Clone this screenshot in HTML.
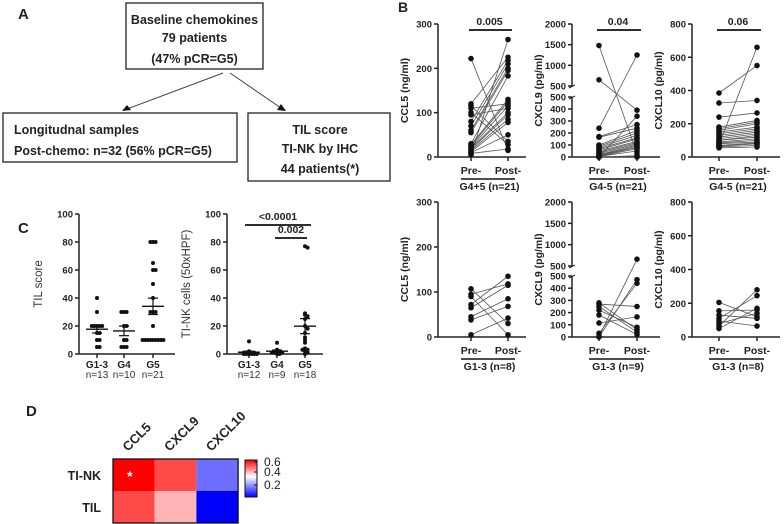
<!DOCTYPE html>
<html><head><meta charset="utf-8"><style>
body{margin:0;background:#fff}
svg{display:block;font-family:"Liberation Sans",sans-serif}
.t{font-weight:bold;fill:#222}
</style></head><body>
<svg id="fig" width="784" height="524" viewBox="0 0 784 524">
<g font-family="Liberation Sans" font-weight="bold" font-size="12.5" fill="#222">
<text x="18" y="19" font-size="15">A</text>
<rect x="126" y="3" width="137" height="66" fill="none" stroke="#222" stroke-width="1.3"/>
<text x="194.5" y="24" text-anchor="middle">Baseline chemokines</text>
<text x="194.5" y="42" text-anchor="middle">79 patients</text>
<text x="194.5" y="63" text-anchor="middle">(47% pCR=G5)</text>
<line x1="223" y1="73" x2="127" y2="109" stroke="#444"/>
<polygon points="122,111 127,105 131,110" fill="#111"/>
<line x1="230" y1="73" x2="281" y2="108" stroke="#444"/>
<polygon points="286,111 277,110 281,104" fill="#111"/>
<rect x="3" y="113" width="234" height="49" fill="none" stroke="#222" stroke-width="1.3"/>
<text x="14" y="134">Longitudnal samples</text>
<text x="14" y="155">Post-chemo: n=32 (56% pCR=G5)</text>
<rect x="248" y="113" width="142" height="68" fill="none" stroke="#222" stroke-width="1.3"/>
<text x="320" y="134" text-anchor="middle">TIL score</text>
<text x="320" y="153" text-anchor="middle">TI-NK by IHC</text>
<text x="320" y="173" text-anchor="middle">44 patients(*)</text>
</g>
<text x="398" y="12" class="t" font-size="14">B</text>
<text x="18" y="233" class="t" font-size="15">C</text>
<text x="26" y="416" class="t" font-size="15">D</text>
<g id="gB"></g>
<g id="gC"></g>
<g id="gD"></g>
</svg>
<script>
// Panel B data
const ccl5PreG45 = [222,120,115,110,100,95,80,70,60,55,30,28,25,22,20,18,15,12,10,8,5];
const ccl5PostG45 = [15,225,35,120,28,110,218,210,200,195,183,130,125,115,100,95,85,78,50,18,265];
const cxcl9PreG45 = [1480,650,240,170,165,100,90,80,70,60,50,40,30,20,15,10,5,5,0,0,0];
const cxcl9PostG45 = [30,390,1250,270,240,220,200,180,160,150,130,120,110,100,90,80,70,50,340,10,0];
const cxcl10PreG45 = [385,325,240,180,170,160,150,140,130,120,110,100,100,90,85,80,75,70,65,60,55];
const cxcl10PostG45 = [550,340,265,220,210,200,180,170,160,150,140,130,120,110,100,90,660,85,80,70,60];
const ccl5PreG13 = [107,95,90,72,65,45,38,5];
const ccl5PostG13 = [30,118,5,135,115,85,68,42];
const cxcl9PreG13 = [280,270,250,220,180,115,30,5,0];
const cxcl9PostG13 = [60,250,40,80,20,165,440,660,470];
const cxcl10PreG13 = [205,155,130,110,95,80,65,50];
const cxcl10PostG13 = [120,160,110,245,65,140,280,170];
const pValuesB = ["0.005","0.04","0.06"];
const groupLabelsTop = ["G4+5 (n=21)","G4-5 (n=21)","G4-5 (n=21)"];
const groupLabelsBottom = ["G1-3 (n=8)","G1-3 (n=9)","G1-3 (n=8)"];
// Panel C data
const tilCats = ["G1-3","G4","G5"];
const tilN = ["n=13","n=10","n=21"];
const tilG13 = [40,30,20,20,20,20,20,15,15,10,10,5,5];
const tilG4 = [30,30,30,20,20,10,10,5,5,5];
const tilG5 = [80,80,80,65,60,60,50,40,30,30,30,20,10,10,10,10,10,10,10,10,10];
const nkN = ["n=12","n=9","n=18"];
const nkG13 = [9,2,1,1,1,1,0,0,0,0,0,0];
const nkG4 = [8,3,2,2,1,1,1,0,0];
const nkG5 = [77,76,29,28,27,25,20,18,15,12,10,8,4,3,3,2,1,0];
const cTicks = [0,20,40,60,80,100];
// Panel D data
const heatCols = ["CCL5","CXCL9","CXCL10"];
const heatRows = ["TI-NK","TIL"];
const heatTINK = [0.62,0.55,0.22];
const heatTIL = [0.55,0.45,0.10];
const legendTicks = [0.6,0.4,0.2];

const NS="http://www.w3.org/2000/svg";
function mk(parent,tag,attrs,text){const e=document.createElementNS(NS,tag);for(const k in attrs)e.setAttribute(k,attrs[k]);if(text!==undefined)e.textContent=text;parent.appendChild(e);return e;}

const gB=document.getElementById('gB');
function pairPlot(o){
  const g=mk(gB,'g',{});
  
  
  let y;
  if(o.broken){
    y=v=> v<=500 ? o.y0-(v/500)*(o.y0-o.yb1) : o.yb2-((v-500)/1500)*(o.yb2-o.yTop);
  } else y=v=>o.y0-(v/o.max)*(o.y0-o.yTop);
  const ax=mk(g,'g',{stroke:'#222','stroke-width':1.5});
  
  
  if(o.broken){
    mk(ax,'line',{x1:o.ax,y1:o.y0,x2:o.ax,y2:o.yb1});
    mk(ax,'line',{x1:o.ax,y1:o.yb2,x2:o.ax,y2:o.yTop});
    mk(ax,'line',{x1:o.ax-3,y1:o.yb1+2,x2:o.ax+3,y2:o.yb1-1,'stroke-width':1});
    mk(ax,'line',{x1:o.ax-3,y1:o.yb2+2,x2:o.ax+3,y2:o.yb2-1,'stroke-width':1});
  } else mk(ax,'line',{x1:o.ax,y1:o.y0,x2:o.ax,y2:o.yTop});
  mk(ax,'line',{x1:o.ax,y1:o.y0,x2:o.ax+88,y2:o.y0});
  mk(ax,'line',{x1:o.xPre,y1:o.y0,x2:o.xPre,y2:o.y0+4});
  mk(ax,'line',{x1:o.xPost,y1:o.y0,x2:o.xPost,y2:o.y0+4});
  const ticks=o.broken?[0,100,200,300,400,500,500.001,1000,1500,2000]:o.ticks;
  ticks.forEach(t=>{
    const yy=t===500.001?o.yb2:y(t);
    mk(ax,'line',{x1:o.ax-4,y1:yy,x2:o.ax,y2:yy});
    const tx=mk(g,'text',{x:o.ax-6,y:yy+3.5,'text-anchor':'end','font-size':9.5,class:'t'},String(Math.round(t)));
    
    
  });
  const yt=mk(g,'text',{x:0,y:0,transform:`translate(${o.ax-30},${(o.y0+o.yTop)/2}) rotate(-90)`,'text-anchor':'middle','font-size':10.5,class:'t'},o.title);
  
  
  o.pre.forEach((v,i)=>{
    const w=o.post[i];
    const l=mk(g,'line',{x1:o.xPre,y1:y(v),x2:o.xPost,y2:y(w),stroke:'#555','stroke-width':0.8});
    
    
  });
  o.pre.forEach(v=>{const c=mk(g,'circle',{cx:o.xPre,cy:y(v),r:2.8,fill:'#111'});});
  o.post.forEach(v=>{const c=mk(g,'circle',{cx:o.xPost,cy:y(v),r:2.8,fill:'#111'});});
  const lp=mk(g,'text',{x:o.xPre,y:o.y0+17,'text-anchor':'middle','font-size':10.5,class:'t'},'Pre-');
  
  const lq=mk(g,'text',{x:o.xPost,y:o.y0+17,'text-anchor':'middle','font-size':10.5,class:'t'},'Post-');
  
  mk(g,'line',{x1:o.xPre-10,y1:o.y0+22,x2:o.xPost+7,y2:o.y0+22,stroke:'#111','stroke-width':1.5});
  const gl=mk(g,'text',{x:(o.xPre+o.xPost)/2,y:o.y0+33,'text-anchor':'middle','font-size':10.5,class:'t'},o.group);
  
  if(o.p){
    mk(g,'line',{x1:o.xPre-2,y1:o.yTop+6,x2:o.xPost+4,y2:o.yTop+6,stroke:'#111','stroke-width':1.8});
    const pt=mk(g,'text',{x:(o.xPre+o.xPost)/2,y:o.yTop+1,'text-anchor':'middle','font-size':10.5,class:'t'},o.p);
    
  }
}
const T1={yTop:24,y0:157,yb1:97,yb2:86}, T2={yTop:202,y0:337,yb1:276,yb2:266};
pairPlot({name:'ccl5-g45-plot',ax:438,xPre:471,xPost:508,...T1,max:300,ticks:[0,100,200,300],title:'CCL5 (ng/ml)',pre:ccl5PreG45,post:ccl5PostG45,group:groupLabelsTop[0],p:pValuesB[0]});
pairPlot({name:'cxcl9-g45-plot',ax:572,xPre:599,xPost:637,...T1,broken:true,title:'CXCL9 (pg/ml)',pre:cxcl9PreG45,post:cxcl9PostG45,group:groupLabelsTop[1],p:pValuesB[1]});
pairPlot({name:'cxcl10-g45-plot',ax:692,xPre:719,xPost:757,...T1,max:800,ticks:[0,200,400,600,800],title:'CXCL10 (pg/ml)',pre:cxcl10PreG45,post:cxcl10PostG45,group:groupLabelsTop[2],p:pValuesB[2]});
pairPlot({name:'ccl5-g13-plot',ax:438,xPre:471,xPost:508,...T2,max:300,ticks:[0,100,200,300],title:'CCL5 (ng/ml)',pre:ccl5PreG13,post:ccl5PostG13,group:groupLabelsBottom[0]});
pairPlot({name:'cxcl9-g13-plot',ax:572,xPre:599,xPost:637,...T2,broken:true,title:'CXCL9 (pg/ml)',pre:cxcl9PreG13,post:cxcl9PostG13,group:groupLabelsBottom[1]});
pairPlot({name:'cxcl10-g13-plot',ax:692,xPre:719,xPost:757,...T2,max:800,ticks:[0,200,400,600,800],title:'CXCL10 (pg/ml)',pre:cxcl10PreG13,post:cxcl10PostG13,group:groupLabelsBottom[2]});

// Panel C
const gC=document.getElementById('gC');
function mean(a){return a.reduce((s,v)=>s+v,0)/a.length;}
function sem(a){const m=mean(a);return Math.sqrt(a.reduce((s,v)=>s+(v-m)*(v-m),0)/(a.length-1))/Math.sqrt(a.length);}
function scatter(o){
  const g=mk(gC,'g',{});
  
  
  const y=v=>o.y0-(v/100)*(o.y0-o.yTop);
  mk(g,'line',{x1:o.ax,y1:o.y0,x2:o.ax,y2:o.yTop,stroke:'#222','stroke-width':1.5});
  mk(g,'line',{x1:o.ax,y1:o.y0,x2:o.ax+96,y2:o.y0,stroke:'#222','stroke-width':1.5});
  cTicks.forEach(t=>{
    mk(g,'line',{x1:o.ax-4,y1:y(t),x2:o.ax,y2:y(t),stroke:'#222','stroke-width':1.5});
    const tx=mk(g,'text',{x:o.ax-6,y:y(t)+3.5,'text-anchor':'end','font-size':9.5,class:'t'},String(t));
    
  });
  const yt=mk(g,'text',{x:0,y:0,transform:`translate(${o.ax-37},${(o.y0+o.yTop)/2}) rotate(-90)`,'text-anchor':'middle','font-size':11.5,fill:'#333'},o.title);
  
  o.groups.forEach((arr,gi)=>{
    const cx=o.xs[gi];
    mk(g,'line',{x1:cx,y1:o.y0,x2:cx,y2:o.y0+4,stroke:'#222','stroke-width':1.5});
    const c1=mk(g,'text',{x:cx,y:o.y0+14,'text-anchor':'middle','font-size':10,class:'t'},tilCats[gi]);
    
    const c2=mk(g,'text',{x:cx,y:o.y0+24,'text-anchor':'middle','font-size':10,fill:'#333'},o.ns[gi]);
    
    const seen={};
    arr.forEach(v=>{
      const key=Math.round(y(v)/4);
      seen[key]=(seen[key]||0)+1;
      const k=seen[key]-1;
      const dx=(k%2?1:-1)*Math.ceil(k/2)*2.6;
      const c=mk(g,'circle',{cx:cx+dx,cy:y(v),r:2,fill:'#111'});
      
    });
    const m=mean(arr),s=sem(arr);
    mk(g,'line',{x1:cx-11,y1:y(m),x2:cx+11,y2:y(m),stroke:'#111','stroke-width':1.4});
    mk(g,'line',{x1:cx,y1:y(m-s),x2:cx,y2:y(m+s),stroke:'#111','stroke-width':1.2});
    mk(g,'line',{x1:cx-5,y1:y(m-s),x2:cx+5,y2:y(m-s),stroke:'#111','stroke-width':1.2});
    mk(g,'line',{x1:cx-5,y1:y(m+s),x2:cx+5,y2:y(m+s),stroke:'#111','stroke-width':1.2});
  });
}
scatter({name:'til-score-plot',ax:79,xs:[97,124,153],yTop:214,y0:354,title:'TIL score',groups:[tilG13,tilG4,tilG5],ns:tilN});
scatter({name:'tink-cells-plot',ax:227,xs:[249,277,305],yTop:214,y0:354,title:'TI-NK cells (50xHPF)',groups:[nkG13,nkG4,nkG5],ns:nkN});
mk(gC,'line',{x1:245,y1:225,x2:311,y2:225,stroke:'#111','stroke-width':1.8});
const p1=mk(gC,'text',{x:278,y:220,'text-anchor':'middle','font-size':10.5,class:'t'},'<0.0001');

mk(gC,'line',{x1:275,y1:238,x2:307,y2:238,stroke:'#111','stroke-width':1.8});
const p2=mk(gC,'text',{x:291,y:233,'text-anchor':'middle','font-size':10.5,class:'t'},'0.002');


// Panel D
const gD=document.getElementById('gD');
function heatColor(v){
  const lo=0.1,mid=0.38,hi=0.62;
  if(v>=mid){const t=Math.min(1,(v-mid)/(hi-mid));return `rgb(255,${Math.round(255*(1-t))},${Math.round(255*(1-t))})`;}
  const t=Math.min(1,(mid-v)/(mid-lo));return `rgb(${Math.round(255*(1-t))},${Math.round(255*(1-t))},255)`;
}
const hx=113,hy=459,cw=41.7,ch=32;
[heatTINK,heatTIL].forEach((row,ri)=>{
  row.forEach((v,ci)=>{
    const r=mk(gD,'rect',{x:hx+ci*cw,y:hy+ri*ch,width:cw,height:ch,fill:heatColor(v)});
    
  });
  const rl=mk(gD,'text',{x:101,y:hy+ri*ch+21,'text-anchor':'end','font-size':12.5,class:'t'},heatRows[ri]);
  
});
mk(gD,'rect',{x:hx,y:hy,width:cw*3,height:ch*2,fill:'none',stroke:'#111','stroke-width':1.3});
const st=mk(gD,'text',{x:hx+cw/2-4,y:hy+22,'text-anchor':'middle','font-size':14,fill:'#fff','font-weight':'bold'},'*');

heatCols.forEach((c,ci)=>{
  const x=hx+ci*cw+cw/2-6;
  const t=mk(gD,'text',{x:0,y:0,transform:`translate(${x},452) rotate(-45)`,'font-size':13,class:'t'},c);
  
});
const defs=mk(gD,'defs',{});
const lg=mk(defs,'linearGradient',{id:'lg',x1:0,y1:0,x2:0,y2:1});
mk(lg,'stop',{offset:'0','stop-color':'#ff0000'});
mk(lg,'stop',{offset:'0.45','stop-color':'#ffffff'});
mk(lg,'stop',{offset:'1','stop-color':'#0000ff'});
const lb=mk(gD,'rect',{x:245,y:460,width:12,height:37,fill:'url(#lg)',stroke:'#111','stroke-width':1});

legendTicks.forEach((t,i)=>{
  const yy=[462,472,485][i];
  mk(gD,'line',{x1:254,y1:yy,x2:257,y2:yy,stroke:'#111'});
  const tx=mk(gD,'text',{x:264,y:yy+4,'font-size':12,fill:'#222'},t.toFixed(1));
  
});
</script>
</body></html>
